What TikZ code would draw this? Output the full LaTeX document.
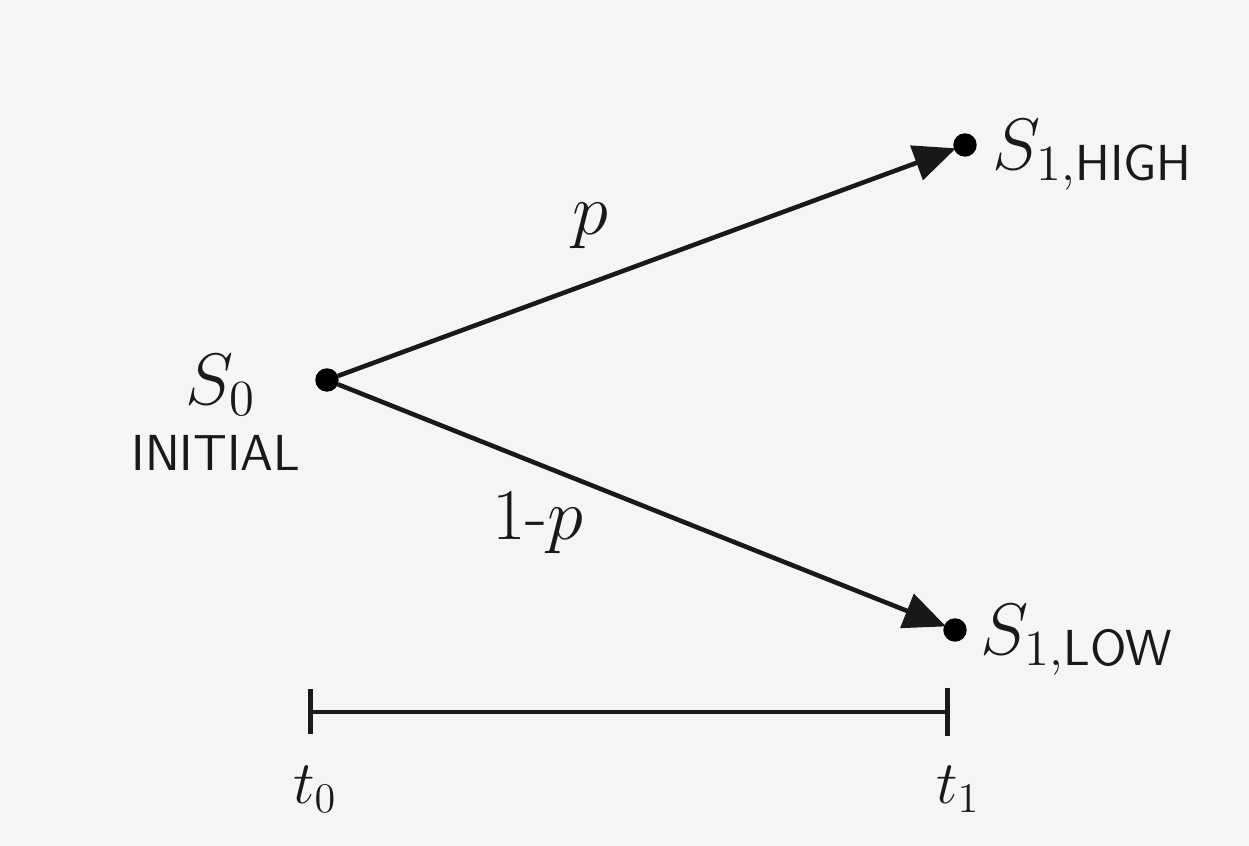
\documentclass[tikz,border=0pt]{standalone}
\usetikzlibrary{positioning, arrows.meta}
\usepackage{amsmath}

\begin{document}
\begin{tikzpicture}[
        dot/.style={
            circle, fill=black, draw=black,
            minimum size=0.22cm, inner sep=0pt
        },
        lbl/.style={
            font=\huge, text=black!90, inner sep=1pt
        },
        word/.style={
            font=\Large\sffamily, text=black!90, inner sep=1pt
        },
        branch/.style={draw, black!90, line width=1.3pt, shorten >=-0.02cm, -{Triangle[length=0.42cm, width=0.36cm]}},
        axis/.style={draw, black!90, line width=1.3pt}
    ]

    % Paper
    \useasboundingbox (0, 0) rectangle (12.49, 8.46);
    \fill[black!4] (0, 0) rectangle (12.49, 8.46);

    % States
    \node[dot] (s0) at (3.27, 4.66) {};
    \node[dot] (high) at (9.65, 7.01) {};
    \node[dot] (low) at (9.55, 2.16) {};

    % State labels
    \node[lbl, left=0.55cm of s0, yshift=-0.05cm] (s0lbl) {$S_0$};
    \node[word, below=0.12cm of s0lbl, xshift=-0.05cm] (initial) {INITIAL};
    \node[lbl, right=0.12cm of high, yshift=-0.1cm] (highlbl) {$S_{1,\mathsf{HIGH}}$};
    \node[lbl, right=0.1cm of low, yshift=-0.1cm] (lowlbl) {$S_{1,\mathsf{LOW}}$};

    % Branches
    \draw[branch] (s0) -- node[lbl, font=\huge, pos=0.41, above=0.28cm] (up) {$p$} (high);
    \draw[branch] (s0) -- node[lbl, font=\huge, pos=0.33, below=0.22cm] (down) {1-$p$} (low);

    % Time axis
    \coordinate (t0) at (3.08, 1.34);
    \coordinate (t1) at (9.50, 1.34);
    \draw[axis, {Bar[width=0.45cm]}-{Bar[width=0.48cm]}] (t0) -- (t1);
    \node[lbl, font=\LARGE, below=0.5cm of t0, xshift=0.07cm] (t0lbl) {$t_0$};
    \node[lbl, font=\LARGE, below=0.5cm of t1, xshift=0.08cm] (t1lbl) {$t_1$};

\end{tikzpicture}
\end{document}
